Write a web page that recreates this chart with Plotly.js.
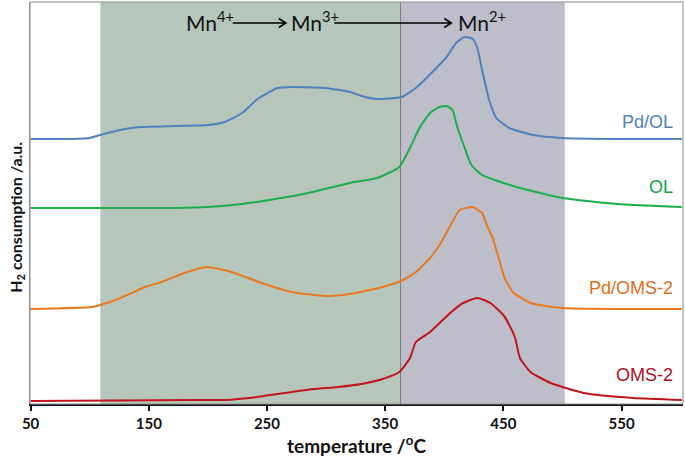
<!DOCTYPE html>
<html>
<head>
<meta charset="utf-8">
<script src="https://cdn.plot.ly/plotly-3.0.1.min.js"></script>
<style>html,body{margin:0;padding:0;background:#fff;}#chart{width:685px;height:460px;}</style>
</head>
<body>
<div id="chart"></div>
<script>
// Temperature (°C) and offset H2 consumption (a.u.)
const tPdOL = [50, 80, 100, 109, 130, 144, 172, 200, 214, 229, 242, 259, 271, 299, 320, 330, 343, 364, 377, 390, 402, 410, 417, 424, 428, 432, 438, 444, 455, 475, 500, 550, 601];
const yPdOL = [265, 265, 266, 269, 275, 277, 278, 279, 282, 291, 305, 316, 317, 316, 312, 308, 305, 307, 317, 332, 347, 361, 367, 365, 356, 334, 304, 286, 276, 269, 266, 265, 265];

const tOL = [50, 100, 172, 200, 229, 257, 285, 320, 343, 362, 371, 379, 388, 396, 402, 407, 411, 417, 423, 432, 461, 500, 546, 601];
const yOL = [196, 196, 196, 197, 200, 205, 211, 221, 226, 237, 256, 276, 291, 297, 298, 294, 277, 257, 239, 229, 217, 206, 200, 197];

const tPdOMS = [50, 102, 109, 124, 147, 163, 180, 199, 220, 248, 271, 299, 320, 348, 365, 376, 388, 396, 405, 413, 424, 432, 436, 441, 446, 451, 458, 473, 500, 601];
const yPdOMS = [95, 97, 99, 105, 117, 123, 131, 137, 132, 120, 112, 108, 110, 117, 124, 132, 146, 159, 178, 194, 197, 191, 179, 166, 146, 126, 112, 101, 96, 95];

const tOMS = [50, 190, 214, 242, 271, 290, 310, 330, 348, 362, 371, 376, 388, 405, 416, 428, 439, 450, 455, 460, 464, 473, 490, 518, 560, 601];
const yOMS = [3, 4, 4, 7, 12, 15, 17, 20, 25, 32, 46, 62, 72, 91, 101, 106, 101, 89, 79, 66, 46, 32, 21, 11, 6, 4];

const seriesNames = ["Pd/OL", "OL", "Pd/OMS-2", "OMS-2"];
const seriesColors = ["#4f81bd", "#1aaf4c", "#e8791f", "#c0141e"];
const labelColors = ["#4f81bd", "#14a448", "#e2701a", "#b01020"];
const labelY = [282, 217, 116, 29];

const tickVals = [50, 150, 250, 350, 450, 550];
const regionGreen = [109, 363];
const regionGray = [363, 502];

const xs = [tPdOL, tOL, tPdOMS, tOMS];
const ys = [yPdOL, yOL, yPdOMS, yOMS];

const traces = xs.map((x, i) => ({
  x: x, y: ys[i], type: "scatter", mode: "lines", name: seriesNames[i],
  line: {color: seriesColors[i], width: 2, shape: "spline", smoothing: 0.5},
  hoverinfo: "skip"
}));

const annotations = seriesNames.map((n, i) => ({
  text: n, x: 595, y: labelY[i], xref: "x", yref: "y", xanchor: "right", yanchor: "middle",
  showarrow: false, font: {family: "Liberation Sans, Arial, sans-serif", size: 18, color: labelColors[i]}
}));

const mnFont = {family: "Lato, Open Sans, sans-serif", size: 21, color: "#111"};
annotations.push(
  {text: "Mn<sup>4+</sup>", x: 202, y: 383, xref: "x", yref: "y", showarrow: false, font: mnFont},
  {text: "Mn<sup>3+</sup>", x: 291, y: 383, xref: "x", yref: "y", showarrow: false, font: mnFont},
  {text: "Mn<sup>2+</sup>", x: 432, y: 383, xref: "x", yref: "y", showarrow: false, font: mnFont},
  {text: "H<sub>2</sub> consumption /a.u.", xref: "paper", yref: "paper", x: -0.022, y: 0.465,
   xanchor: "center", yanchor: "middle", textangle: -90, showarrow: false,
   font: {family: "Lato, sans-serif", size: 16, color: "#111", weight: "bold"}}
);

function arrowPath(x0, x1, y) {
  return `M ${x0} ${y} L ${x1} ${y} M ${x1 - 6} ${y + 4.5} L ${x1} ${y} L ${x1 - 6} ${y - 4.5}`;
}

const shapes = [
  {type: "rect", xref: "x", yref: "paper", x0: regionGreen[0], x1: regionGreen[1], y0: 0, y1: 1,
   fillcolor: "#b7c6ba", line: {width: 0}, layer: "below"},
  {type: "rect", xref: "x", yref: "paper", x0: regionGray[0], x1: regionGray[1], y0: 0, y1: 1,
   fillcolor: "#bebecb", line: {width: 0}, layer: "below"},
  {type: "line", xref: "x", yref: "paper", x0: regionGray[0], x1: regionGray[0], y0: 0, y1: 1,
   line: {color: "#7a7f7a", width: 1}, layer: "below"},
  {type: "rect", xref: "paper", yref: "paper", x0: 0, x1: 1, y0: 0, y1: 1,
   line: {color: "#8c8c8c", width: 1}, layer: "above"},
  {type: "path", xref: "x", yref: "y", path: arrowPath(221, 266, 381), line: {color: "#000", width: 1.6}},
  {type: "path", xref: "x", yref: "y", path: arrowPath(307, 406, 381), line: {color: "#000", width: 1.6}}
];

const layout = {
  width: 685, height: 460,
  margin: {l: 30, r: 2, t: 2, b: 56},
  paper_bgcolor: "#fff", plot_bgcolor: "#fff",
  showlegend: false,
  xaxis: {
    range: [49.5, 602], tickvals: tickVals, ticktext: tickVals.map(String),
    showgrid: false, zeroline: false, showline: true, linecolor: "#111", linewidth: 2,
    ticks: "outside", ticklen: 5, tickwidth: 2, tickcolor: "#111",
    tickfont: {family: "Lato, sans-serif", size: 15, color: "#111", weight: "bold"},
    title: {text: "temperature /<sup>o</sup>C", standoff: 6,
      font: {family: "Lato, sans-serif", size: 19, color: "#111", weight: "bold"}}
  },
  yaxis: {
    range: [0, 402], showticklabels: false, showgrid: false, zeroline: false,
    showline: true, linecolor: "#8c8c8c", linewidth: 1, ticks: ""
  },
  shapes: shapes,
  annotations: annotations
};

Plotly.newPlot("chart", traces, layout, {displayModeBar: false, staticPlot: true});
</script>
</body>
</html>
